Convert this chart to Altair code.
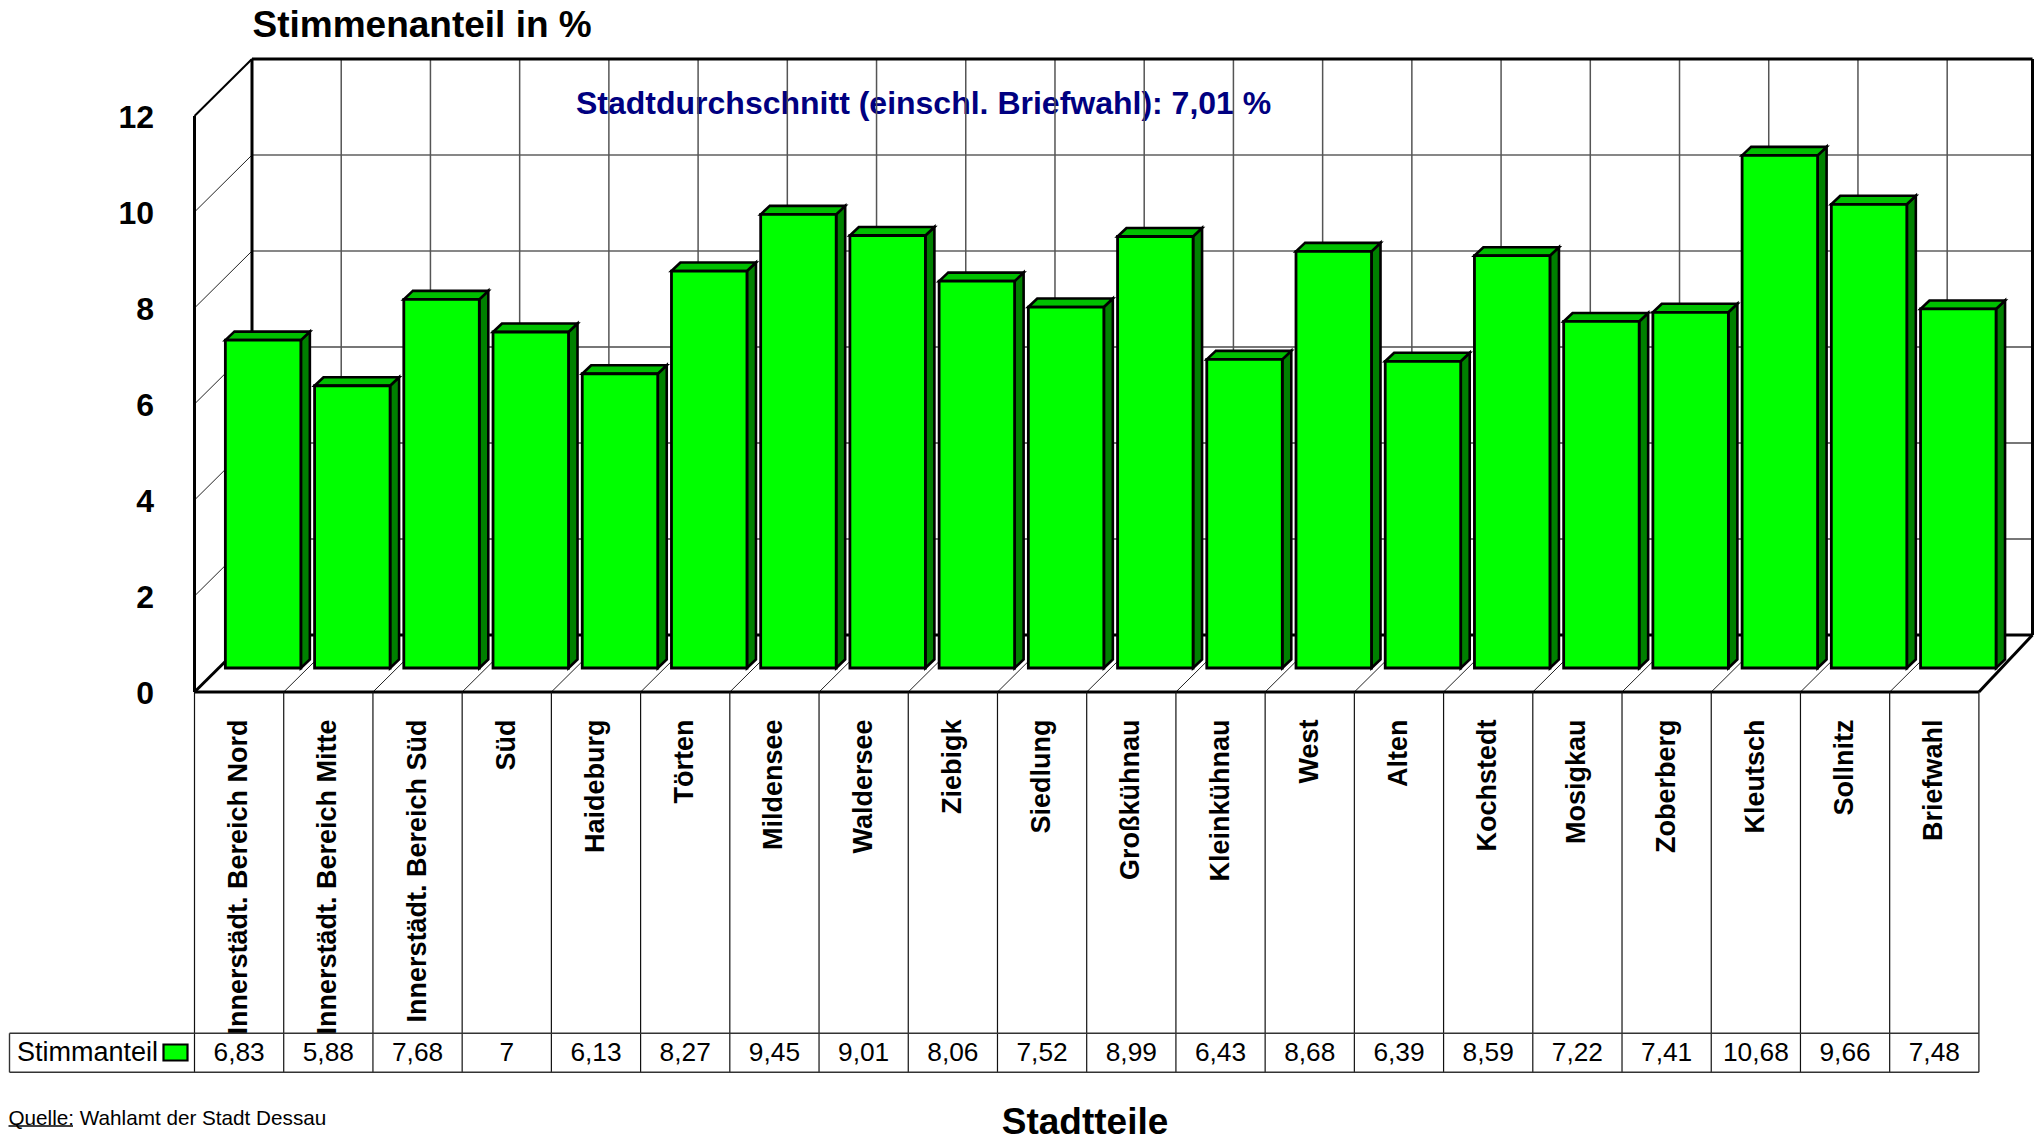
import altair as alt
import pandas as pd

districts = ["Innerstädt. Bereich Nord", "Innerstädt. Bereich Mitte", "Innerstädt. Bereich Süd", "Süd",
             "Haideburg", "Törten", "Mildensee", "Waldersee", "Ziebigk", "Siedlung", "Großkühnau",
             "Kleinkühnau", "West", "Alten", "Kochstedt", "Mosigkau", "Zoberberg", "Kleutsch",
             "Sollnitz", "Briefwahl"]
shares = [6.83, 5.88, 7.68, 7, 6.13, 8.27, 9.45, 9.01, 8.06, 7.52, 8.99, 6.43, 8.68, 6.39, 8.59,
          7.22, 7.41, 10.68, 9.66, 7.48]
y_ticks = [0, 2, 4, 6, 8, 10, 12]

W, H = 2026, 1130
SLOT = 89.22      # px per category slot
UNIT = 48.0       # px per percent
X0, Y0 = 194.5, 692.0   # page position of the front-left corner (slot 0, value 0)
N = len(districts)

# oblique depth of the chart box, expressed in data units
DX, DY = 57.5 / SLOT, 57 / UNIT
# where the bars stand on the floor, and their geometry
BX, BY = 24 / SLOT, 24 / UNIT
BAR_W = 75.5 / SLOT
SX, SY = 9 / SLOT, 8.5 / UNIT
# the right wall edge is pulled in so that it stays on the page
RIGHT = (2032.5 - X0) / SLOT

x_scale = alt.Scale(domain=[(8 - X0) / SLOT, (8 + W - X0) / SLOT], range=[0, W], nice=False, zero=False)
y_scale = alt.Scale(domain=[(Y0 - 8 - H) / UNIT, (Y0 - 8) / UNIT], range=[H, 0], nice=False, zero=False)


def segs(rows, color, width):
    df = pd.DataFrame(rows, columns=["x", "y", "x2", "y2"])
    return alt.Chart(df).mark_rule(color=color, strokeWidth=width).encode(
        x=alt.X("x:Q", scale=x_scale, axis=None), x2="x2:Q",
        y=alt.Y("y:Q", scale=y_scale, axis=None), y2="y2:Q")


FONT = "Liberation Sans"


def note(text, px, py, **mk):
    base = dict(align="left", baseline="middle", color="black")
    base.update(mk)
    return alt.Chart(pd.DataFrame(dict(t=[text]))).mark_text(font=FONT, **base).encode(
        x=alt.value(px - 8), y=alt.value(py - 8), text="t:N")


TOP = y_ticks[-1]
layers = []

# average note sits under the grid, as in the reference
layers.append(note("Stadtdurchschnitt (einschl. Briefwahl): 7,01 %", 576, 104, fontSize=32,
                   fontWeight="bold", color="#000080"))

# back wall grid
layers.append(segs([[DX, v + DY, RIGHT, v + DY] for v in [8, 10]], "#111111", 1.2))
layers.append(segs([[DX, v + DY, RIGHT, v + DY] for v in [2, 4, 6]], "#777777", 2))
layers.append(segs([[DX + i, DY, DX + i, TOP + DY] for i in range(1, N)], "#555555", 1.5))
# left wall and floor thin lines
layers.append(segs([[0, v, DX, v + DY] for v in y_ticks[1:-1]], "#222222", 1))
layers.append(segs([[i, 0, i + DX, DY] for i in range(1, N)], "#222222", 1))
# heavy frame
frame = [[DX, TOP + DY, RIGHT, TOP + DY], [DX, DY, RIGHT, DY],
         [DX, DY, DX, TOP + DY], [RIGHT, DY, RIGHT, TOP + DY],
         [0, 0, 0, TOP], [0, 0, N, 0], [0, 0, DX, DY], [N, 0, RIGHT, DY]]
layers.append(segs(frame, "black", 3))
layers.append(segs([[0, TOP, DX, TOP + DY]], "black", 2))

# bars
rows_front, rows_top, rows_side = [], [], []
for i, (name, v) in enumerate(zip(districts, shares)):
    xc = i + 0.5 + BX
    l, r = xc - BAR_W / 2, xc + BAR_W / 2
    base, top = BY, BY + v
    rows_front.append(dict(name=name, l=l, r=r, base=base, top=top))
    rows_top += [dict(name=name, y=top, x=l, x2=r), dict(name=name, y=top + SY, x=l + SX, x2=r + SX)]
    rows_side += [dict(name=name, x=r, y=base, y2=top), dict(name=name, x=r + SX, y=base + SY, y2=top + SY)]

layers.append(alt.Chart(pd.DataFrame(rows_side)).mark_area(
    orient="vertical", fill="#008000", stroke="black", strokeWidth=2.6, strokeJoin="miter").encode(
    x=alt.X("x:Q", scale=x_scale, axis=None),
    y=alt.Y("y:Q", scale=y_scale, axis=None, stack=None), y2="y2:Q", detail="name:N"))
layers.append(alt.Chart(pd.DataFrame(rows_top)).mark_area(
    orient="horizontal", fill="#00c000", stroke="black", strokeWidth=2.6, strokeJoin="miter").encode(
    y=alt.Y("y:Q", scale=y_scale, axis=None),
    x=alt.X("x:Q", scale=x_scale, axis=None, stack=None), x2="x2:Q", detail="name:N"))
layers.append(alt.Chart(pd.DataFrame(rows_front)).mark_rect(
    fill="#00ff00", stroke="black", strokeWidth=2.8).encode(
    x=alt.X("l:Q", scale=x_scale, axis=None), x2="r:Q",
    y=alt.Y("base:Q", scale=y_scale, axis=None), y2="top:Q"))

# data table
T1, T2 = (Y0 - 1033.3) / UNIT, (Y0 - 1072.3) / UNIT
XT = (9.5 - X0) / SLOT
layers.append(segs([[i, 0, i, T2] for i in range(N + 1)], "#111111", 1.2))
layers.append(segs([[XT, T1, N, T1], [XT, T2, N, T2], [XT, T1, XT, T2]], "#333333", 1.4))

labels = pd.DataFrame(dict(x=[i + 0.5 for i in range(N)], name=districts,
                           val=[str(v).replace(".", ",") for v in shares]))
layers.append(alt.Chart(labels).mark_text(
    font=FONT, fontSize=27, fontWeight="bold", angle=270, align="right", baseline="middle",
    color="black").encode(
    x=alt.X("x:Q", scale=x_scale, axis=None), y=alt.value(719.5 - 8), text="name:N"))
layers.append(alt.Chart(labels).mark_text(
    font=FONT, fontSize=26.3, align="center", baseline="middle", color="black").encode(
    x=alt.X("x:Q", scale=x_scale, axis=None), y=alt.value(1052.5 - 8), text="val:N"))

ticks = pd.DataFrame(dict(y=y_ticks, t=[str(v) for v in y_ticks]))
layers.append(alt.Chart(ticks).mark_text(
    font=FONT, fontSize=32, fontWeight="bold", align="right", baseline="middle", color="black", dy=1.5).encode(
    x=alt.value(154 - 8), y=alt.Y("y:Q", scale=y_scale, axis=None), text="t:N"))

layers.append(note("Stimmenanteil in %", 252.5, 26, fontSize=37, fontWeight="bold"))
layers.append(note("Stimmanteil", 17, 1052.5, fontSize=27))
layers.append(note("Quelle: Wahlamt der Stadt Dessau", 8.5, 1118.5, fontSize=20.7))
layers.append(note("Stadtteile", 1085, 1123, fontSize=37, fontWeight="bold", align="center"))

# legend swatch and source underline
layers.append(alt.Chart(pd.DataFrame(dict(a=[0]))).mark_rect(
    fill="#00ff00", stroke="black", strokeWidth=2.2).encode(
    x=alt.value(163.5 - 8), x2=alt.value(187.5 - 8), y=alt.value(1044.5 - 8), y2=alt.value(1060.5 - 8)))
layers.append(alt.Chart(pd.DataFrame(dict(a=[0]))).mark_rule(color="black", strokeWidth=1.4).encode(
    x=alt.value(8.5 - 8), x2=alt.value(73 - 8), y=alt.value(1126 - 8)))

chart = alt.layer(*layers).properties(
    width=W, height=H, padding=0, autosize=alt.AutoSizeParams(type="none"),
    background="white").configure_view(stroke=None)

chart.save("out.html", embed_options={"renderer": "svg", "actions": False})
